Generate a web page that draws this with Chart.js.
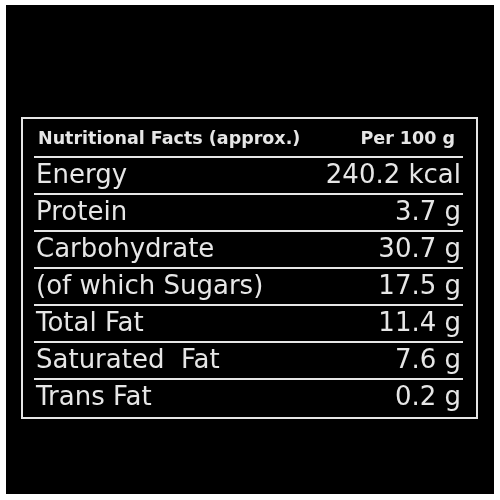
<!DOCTYPE html>
<html>
<head>
<meta charset="utf-8">
<script src="https://cdn.jsdelivr.net/npm/chart.js@4/dist/chart.umd.min.js"></script>
<style>
  html, body { margin: 0; padding: 0; background: #fff; }
  #wrap { position: absolute; left: 6px; top: 5px; width: 488px; height: 489px; background: #000; }
  #c { position: absolute; left: 0; top: 0; }
</style>
</head>
<body>
<div id="wrap"></div>
<canvas id="c" width="500" height="500"></canvas>
<script>
const headerLeft = 'Nutritional Facts (approx.)';
const headerRight = 'Per 100 g';
const nutrients = ['Energy', 'Protein', 'Carbohydrate', '(of which Sugars)', 'Total Fat', 'Saturated  Fat', 'Trans Fat'];
const amounts = [240.2, 3.7, 30.7, 17.5, 11.4, 7.6, 0.2];
const units = ['kcal', 'g', 'g', 'g', 'g', 'g', 'g'];

const ink = '#e6e6e6';

const tablePlugin = {
    id: 'tablePlugin',
    afterDraw(chart) {
        const ctx = chart.ctx;
        const area = chart.chartArea;
        const y = chart.scales.y;
        const step = Math.abs(y.getPixelForValue(1) - y.getPixelForValue(0));
        const top = area.top - 39;
        ctx.save();
        ctx.strokeStyle = ink;
        ctx.lineWidth = 2;
        ctx.strokeRect(area.left, top, area.right - area.left, area.bottom - top + 2);
        // row separators
        for (let i = 0; i < nutrients.length; i++) {
            const ly = Math.round(y.getPixelForValue(i) - step / 2);
            ctx.beginPath();
            ctx.moveTo(area.left + 12, ly);
            ctx.lineTo(area.right - 14, ly);
            ctx.stroke();
        }
        // header
        ctx.fillStyle = ink;
        ctx.textBaseline = 'middle';
        ctx.font = 'bold 17.5px "DejaVu Sans", sans-serif';
        ctx.textAlign = 'left';
        ctx.fillText(headerLeft, area.left + 16, top + 21);
        ctx.textAlign = 'right';
        ctx.fillText(headerRight, area.right - 22, top + 21);
        // rows
        ctx.font = '26px "DejaVu Sans", sans-serif';
        nutrients.forEach((name, i) => {
            const py = y.getPixelForValue(i) + 1;
            ctx.textAlign = 'left';
            ctx.fillText(name, area.left + 14, py);
            ctx.textAlign = 'right';
            ctx.fillText(amounts[i].toFixed(1) + ' ' + units[i], area.right - 16, py);
        });
        ctx.restore();
    }
};

new Chart(document.getElementById('c'), {
    type: 'bar',
    data: {
        labels: nutrients,
        datasets: [{ data: amounts, backgroundColor: 'rgba(0,0,0,0)' }]
    },
    options: {
        indexAxis: 'y',
        responsive: false,
        animation: false,
        layout: { padding: { left: 22, right: 23, top: 157, bottom: 84 } },
        scales: {
            x: { display: false },
            y: { display: false }
        },
        plugins: { legend: { display: false }, tooltip: { enabled: false } }
    },
    plugins: [tablePlugin]
});
</script>
</body>
</html>
